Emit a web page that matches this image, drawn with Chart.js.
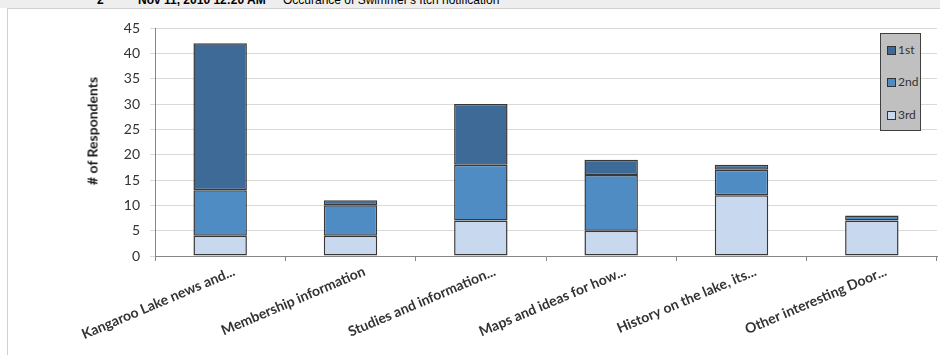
<!DOCTYPE html>
<html>
<head>
<meta charset="utf-8">
<script src="https://cdn.jsdelivr.net/npm/chart.js@4"></script>
<style>
  body { margin: 0; background: #fff; width: 940px; height: 355px; overflow: hidden; position: relative; font-family: "Liberation Sans", Arial, sans-serif; }
  #header { position: absolute; left: 0; top: 0; width: 940px; height: 8px; background: #eeeeee; overflow: hidden; }
  #header span { position: absolute; top: -7px; font-size: 12px; line-height: 14px; color: #000; white-space: nowrap; }
  #frame { position: absolute; left: 7px; top: 8px; width: 933px; height: 347px; border-left: 1px solid #d0d0d0; border-top: 1px solid #d0d0d0; }
  #chart { position: absolute; left: 8px; top: 9px; }
  #ytitle { position: absolute; left: 92px; top: 131px; transform: translate(-50%, -50%) rotate(-90deg); font: bold 14px Lato, "Open Sans", sans-serif; color: #1a1a1a; white-space: nowrap; }
  #legend { position: absolute; left: 880px; top: 33px; width: 39px; height: 96px; background: #c0c0c0; border: 1px solid #404040; }
  .item { position: absolute; left: 6px; font: 12px Lato, "Open Sans", sans-serif; color: #333; line-height: 12px; }
  .item i { display: inline-block; width: 7px; height: 7px; border: 1px solid #333; margin-right: 2px; vertical-align: -1px; }
</style>
</head>
<body>
<div id="header">
  <span style="left:97px;font-weight:bold">2</span>
  <span style="left:138px;font-weight:bold">Nov 11, 2010 12:20 AM</span>
  <span style="left:283px">Occurance of Swimmer's Itch notification</span>
</div>
<div id="frame"></div>
<canvas id="chart" width="932" height="346"></canvas>
<div id="ytitle"># of Respondents</div>
<div id="legend"></div>
<script>
var categories = ['Kangaroo Lake news and...', 'Membership information', 'Studies and information...', 'Maps and ideas for how...', 'History on the lake, its...', 'Other interesting Door...'];
var first = [29, 1, 12, 3, 1, 0];
var second = [9, 6, 11, 11, 5, 1];
var third = [4, 4, 7, 5, 12, 7];
var seriesNames = ['1st', '2nd', '3rd'];
var colors = ['#3d6a97', '#4f8cc3', '#c8d8ee'];

var legend = document.getElementById('legend');
var legendTops = [10, 42, 75];
for (var i = 0; i < seriesNames.length; i++) {
    var item = document.createElement('div');
    item.className = 'item';
    item.style.top = legendTops[i] + 'px';
    item.innerHTML = '<i style="background:' + colors[i] + '"></i>' + seriesNames[i];
    legend.appendChild(item);
}

var ctx = document.getElementById('chart').getContext('2d');
var myChart = new Chart(ctx, {
    type: 'bar',
    data: {
        labels: categories,
        datasets: [
            { label: seriesNames[2], data: third, backgroundColor: colors[2] },
            { label: seriesNames[1], data: second, backgroundColor: colors[1] },
            { label: seriesNames[0], data: first, backgroundColor: colors[0] }
        ]
    },
    options: {
        responsive: false,
        animation: false,
        devicePixelRatio: 1,
        datasets: {
            bar: {
                borderColor: '#383838',
                borderWidth: 1.5,
                borderSkipped: false,
                barPercentage: 0.41,
                categoryPercentage: 1
            }
        },
        layout: { padding: { left: 0, right: 3, top: 19, bottom: 0 } },
        scales: {
            x: {
                stacked: true,
                afterFit: function(s) { s.height = 99; },
                border: { color: '#868686' },
                grid: { offset: true, drawOnChartArea: false, tickLength: 5, color: '#868686' },
                ticks: {
                    maxRotation: 23,
                    minRotation: 23,
                    labelOffset: 14,
                    padding: 2,
                    color: '#333',
                    font: { family: 'Lato', size: 14, weight: 'bold' }
                }
            },
            y: {
                stacked: true,
                min: 0,
                max: 45,
                afterFit: function(s) { s.width = 147; },
                border: { color: '#868686' },
                grid: { color: '#d9d9d9', tickLength: 5 },
                ticks: {
                    stepSize: 5,
                    padding: 10,
                    color: '#333',
                    font: { family: 'Lato', size: 14 }
                }
            }
        },
        plugins: {
            legend: { display: false },
            tooltip: { enabled: false }
        }
    }
});
</script>
</body>
</html>
